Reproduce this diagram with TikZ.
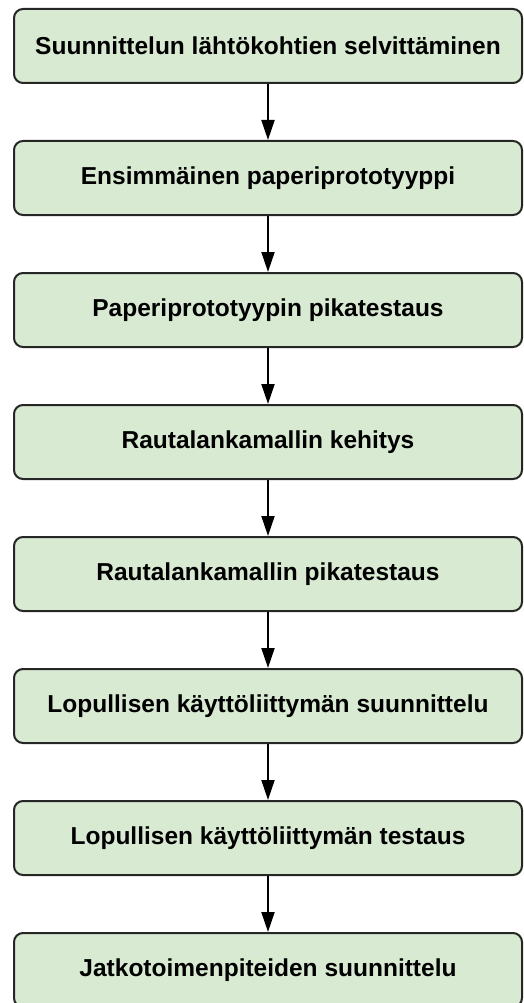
\documentclass[tikz,border=0pt]{standalone}
\usepackage{fontspec}
\setmainfont{Liberation Sans}
\usepackage{xcolor}
\usetikzlibrary{positioning, arrows.meta}

\definecolor{stagefill}{RGB}{217,234,211}

\begin{document}
\begin{tikzpicture}[x=1pt, y=-1pt,
        stage/.style={draw=black!85, line width=2pt, fill=stagefill, rounded corners=9pt,
            minimum width=508pt, minimum height=74pt,
            font=\fontsize{24.5}{29}\selectfont\bfseries},
        flow/.style={line width=2pt, -{Triangle[length=20pt, width=13pt]}}]
                    \useasboundingbox (0,0) rectangle (523,1003);

                    \node[stage] (s1) at (268,46) {Suunnittelun lähtökohtien selvittäminen};
                    \node[stage, below=56pt of s1] (s2) {Ensimmäinen paperiprototyyppi};
                    \node[stage, below=56pt of s2] (s3) {Paperiprototyypin pikatestaus};
                    \node[stage, below=56pt of s3] (s4) {Rautalankamallin kehitys};
                    \node[stage, below=56pt of s4] (s5) {Rautalankamallin pikatestaus};
                    \node[stage, below=56pt of s5] (s6) {Lopullisen käyttöliittymän suunnittelu};
                    \node[stage, below=56pt of s6] (s7) {Lopullisen käyttöliittymän testaus};
                    \node[stage, below=56pt of s7] (s8) {Jatkotoimenpiteiden suunnittelu};

                    \draw[flow] (s1) -- (s2);
                    \draw[flow] (s2) -- (s3);
                    \draw[flow] (s3) -- (s4);
                    \draw[flow] (s4) -- (s5);
                    \draw[flow] (s5) -- (s6);
                    \draw[flow] (s6) -- (s7);
                    \draw[flow] (s7) -- (s8);
                \end{tikzpicture}
\end{document}
